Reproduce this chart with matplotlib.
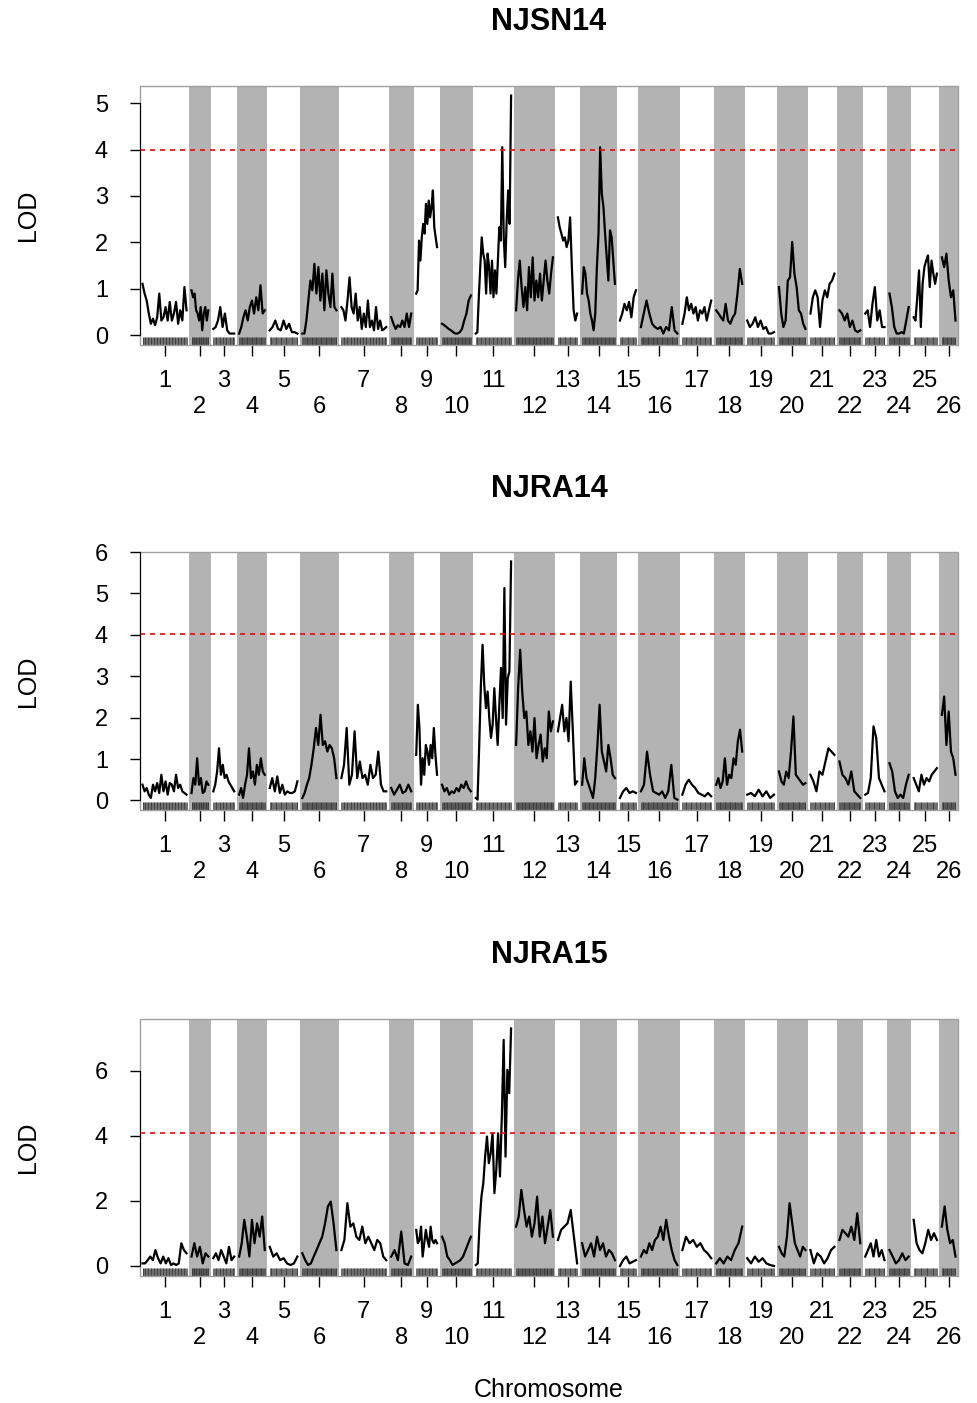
import numpy as np
import matplotlib
matplotlib.use("Agg")
import matplotlib.pyplot as plt
from matplotlib.patches import Rectangle

plt.rcParams['font.family'] = ['Liberation Sans', 'DejaVu Sans']

# chromosome map (cM) and gap between chromosomes
chrom_names = [str(i) for i in range(1, 27)]
chrom_len = [110, 42, 52, 64, 69, 85, 112, 50, 52, 72, 88, 92, 48,
             82, 40, 91, 72, 65, 67, 66, 60, 52, 48, 48, 58, 34]
gap = 12.5
# number of markers per chromosome (rug)
marker_count = [60, 25, 28, 32, 34, 42, 60, 26, 28, 38, 45, 48, 24,
                42, 20, 45, 36, 32, 32, 32, 30, 26, 24, 24, 28, 18]

titles = ["NJSN14", "NJRA14", "NJRA15"]
thresholds = [4.00, 4.02, 4.10]
y_ticks = [[0, 1, 2, 3, 4, 5], [0, 1, 2, 3, 4, 5, 6], [0, 2, 4, 6]]

lod_njsn14 = [
    [1.11, 0.90, 0.75, 0.47, 0.25, 0.36, 0.22, 0.39, 0.90, 0.32, 0.39, 0.61, 0.32, 0.72, 0.32, 0.47, 0.72, 0.25, 0.54, 0.32, 1.04, 0.54],
    [0.97, 0.82, 0.90, 0.54, 0.47, 0.32, 0.61, 0.11, 0.47, 0.61, 0.32, 0.54],
    [0.14, 0.18, 0.32, 0.61, 0.18, 0.47, 0.11, 0.04, 0.04, 0.04],
    [0.04, 0.18, 0.39, 0.54, 0.32, 0.61, 0.75, 0.47, 0.82, 0.54, 1.08, 0.47, 0.54],
    [0.11, 0.18, 0.32, 0.14, 0.11, 0.32, 0.14, 0.25, 0.07, 0.07, 0.04],
    [0.04, 0.04, 0.32, 0.75, 1.18, 0.97, 1.54, 0.90, 1.47, 0.75, 1.33, 0.54, 1.40, 0.90, 0.61, 1.33, 0.61, 0.54],
    [0.61, 0.54, 0.32, 0.75, 1.25, 0.61, 0.47, 0.90, 0.32, 0.61, 0.14, 0.47, 0.18, 0.75, 0.18, 0.32, 0.11, 0.61, 0.14, 0.32, 0.11, 0.14, 0.18],
    [0.39, 0.25, 0.14, 0.22, 0.18, 0.32, 0.18, 0.47, 0.18, 0.47],
    [0.90, 0.97, 2.04, 1.61, 2.11, 2.40, 2.19, 2.83, 2.40, 2.90, 2.54, 2.76, 3.12, 2.33, 2.11, 1.90],
    [0.25, 0.22, 0.18, 0.14, 0.11, 0.07, 0.04, 0.04, 0.07, 0.14, 0.32, 0.47, 0.75, 0.86],
    [0.04, 0.07, 0.82, 1.47, 2.11, 1.76, 1.61, 0.90, 1.76, 1.47, 0.90, 1.61, 0.82, 1.40, 0.90, 1.61, 2.33, 2.04, 4.05, 2.11, 1.47, 2.47, 3.12, 2.40, 5.16],
    [0.54, 1.18, 1.61, 1.04, 0.61, 1.04, 0.54, 1.47, 0.82, 1.68, 0.75, 1.18, 0.82, 1.33, 0.75, 1.18, 1.61, 1.18, 0.90, 1.33, 1.68],
    [2.54, 2.33, 2.19, 2.04, 2.11, 1.90, 2.04, 2.54, 1.47, 0.54, 0.32, 0.47],
    [0.90, 1.47, 1.33, 0.90, 0.75, 0.47, 0.32, 0.11, 0.47, 1.47, 2.19, 4.05, 3.05, 2.76, 2.19, 1.68, 1.18, 2.26, 2.11, 1.61, 1.11],
    [0.32, 0.47, 0.68, 0.54, 0.72, 0.39, 0.82, 0.97],
    [0.18, 0.47, 0.75, 0.47, 0.25, 0.18, 0.14, 0.18, 0.04, 0.18, 0.11, 0.61, 0.11, 0.04],
    [0.25, 0.47, 0.82, 0.54, 0.68, 0.47, 0.61, 0.32, 0.54, 0.47, 0.61, 0.32, 0.54, 0.75],
    [0.54, 0.47, 0.39, 0.32, 0.68, 0.32, 0.25, 0.39, 0.47, 0.90, 1.43, 1.11],
    [0.32, 0.18, 0.25, 0.39, 0.18, 0.32, 0.14, 0.18, 0.04, 0.04, 0.07],
    [1.04, 0.47, 0.18, 0.32, 1.18, 1.25, 2.01, 1.33, 1.04, 0.54, 0.47, 0.25, 0.14],
    [0.47, 0.82, 0.97, 0.82, 0.18, 0.75, 0.97, 0.82, 1.11, 1.18, 1.33],
    [0.54, 0.47, 0.32, 0.47, 0.18, 0.32, 0.11, 0.07, 0.11],
    [0.47, 0.54, 0.18, 0.68, 1.04, 0.32, 0.54, 0.18, 0.18],
    [0.90, 0.61, 0.18, 0.04, 0.04, 0.07, 0.04, 0.32, 0.61],
    [0.39, 0.32, 0.82, 1.40, 0.18, 1.11, 1.47, 1.61, 1.72, 1.04, 1.61, 1.33, 1.11, 1.33],
    [1.68, 1.47, 1.76, 1.18, 0.82, 0.97, 0.32],
]

lod_njra14 = [
    [0.38, 0.22, 0.30, 0.14, 0.06, 0.38, 0.22, 0.42, 0.18, 0.62, 0.22, 0.46, 0.14, 0.42, 0.38, 0.22, 0.62, 0.30, 0.38, 0.22, 0.18, 0.14],
    [0.18, 0.54, 0.38, 1.02, 0.38, 0.54, 0.18, 0.22, 0.46, 0.38],
    [0.22, 0.38, 0.70, 1.26, 0.62, 0.86, 0.54, 0.62, 0.46, 0.38, 0.30, 0.22],
    [0.14, 0.30, 0.06, 0.38, 0.62, 1.26, 0.54, 0.70, 0.38, 0.86, 0.62, 1.02, 0.70, 0.62],
    [0.30, 0.54, 0.22, 0.58, 0.18, 0.38, 0.14, 0.22, 0.18, 0.18, 0.22, 0.46],
    [0.06, 0.18, 0.38, 0.54, 0.86, 1.26, 1.75, 1.34, 2.07, 1.34, 1.43, 1.18, 1.34, 1.26, 1.02, 0.54],
    [0.54, 0.86, 1.75, 0.38, 0.62, 1.67, 0.54, 0.94, 0.54, 0.62, 0.38, 0.86, 0.54, 0.62, 1.18, 0.38, 0.22, 0.22],
    [0.30, 0.14, 0.26, 0.38, 0.18, 0.22, 0.38, 0.22],
    [1.10, 2.31, 1.75, 0.38, 1.02, 0.62, 1.34, 1.18, 0.86, 1.34, 1.02, 1.75, 1.10, 0.62],
    [0.38, 0.22, 0.30, 0.14, 0.22, 0.18, 0.30, 0.22, 0.38, 0.30, 0.46, 0.30, 0.22],
    [0.06, 0.02, 1.34, 2.79, 3.76, 2.79, 2.23, 2.63, 1.99, 1.51, 1.83, 2.71, 1.99, 1.34, 2.31, 3.20, 1.99, 5.13, 1.83, 2.95, 3.12, 5.77],
    [1.34, 2.71, 3.64, 2.63, 1.99, 2.15, 1.34, 1.67, 1.18, 1.99, 1.02, 1.34, 1.59, 0.94, 1.26, 1.02, 2.15, 1.67, 1.91],
    [1.67, 1.99, 2.31, 1.67, 1.99, 1.43, 2.87, 1.67, 0.38, 0.46],
    [0.38, 1.02, 0.54, 0.38, 0.22, 0.06, 0.54, 1.34, 2.31, 1.18, 0.94, 0.70, 1.34, 1.02, 0.62, 0.54],
    [0.06, 0.22, 0.30, 0.18, 0.22, 0.18],
    [0.22, 0.38, 1.18, 0.62, 0.22, 0.18, 0.14, 0.22, 0.06, 0.22, 0.86, 0.06, 0.02],
    [0.14, 0.38, 0.50, 0.38, 0.30, 0.18, 0.14, 0.10, 0.18, 0.10],
    [0.38, 0.54, 0.30, 0.46, 1.02, 0.38, 0.62, 0.54, 1.02, 0.86, 1.43, 1.71, 1.18],
    [0.14, 0.18, 0.10, 0.26, 0.10, 0.22, 0.06, 0.14],
    [0.70, 0.46, 0.38, 0.70, 0.54, 1.18, 2.03, 0.62, 0.54, 0.46, 0.38, 0.42],
    [0.62, 0.46, 0.22, 0.70, 0.62, 0.94, 1.26, 1.18, 1.10],
    [0.94, 0.62, 0.54, 0.38, 0.70, 0.22, 0.14, 0.06],
    [0.14, 0.18, 0.54, 1.79, 1.51, 0.54, 0.38, 0.22],
    [0.90, 0.70, 0.22, 0.06, 0.14, 0.06, 0.38, 0.62],
    [0.54, 0.38, 0.22, 0.62, 0.38, 0.54, 0.46, 0.62, 0.70, 0.78],
    [2.07, 2.51, 1.34, 2.15, 1.18, 1.02, 0.62],
]

lod_njra15 = [
    [0.08, 0.08, 0.18, 0.29, 0.18, 0.49, 0.24, 0.08, 0.29, 0.08, 0.24, 0.03, 0.08, 0.03, 0.08, 0.70, 0.49, 0.39],
    [0.29, 0.70, 0.29, 0.59, 0.08, 0.39, 0.29],
    [0.24, 0.39, 0.18, 0.49, 0.29, 0.08, 0.59, 0.18, 0.29],
    [0.29, 0.70, 1.42, 0.90, 0.29, 1.42, 0.70, 1.31, 0.90, 1.52, 0.49],
    [0.59, 0.29, 0.39, 0.18, 0.24, 0.08, 0.03, 0.08, 0.29],
    [0.39, 0.18, 0.03, 0.08, 0.29, 0.49, 0.70, 0.90, 1.31, 1.83, 1.98, 1.31, 0.49],
    [0.49, 0.80, 1.93, 1.21, 1.31, 0.90, 0.80, 1.21, 0.70, 0.90, 0.70, 0.49, 0.80, 0.70, 0.29, 0.18],
    [0.29, 0.49, 0.18, 1.06, 0.08, 0.03, 0.29],
    [1.11, 0.70, 0.80, 1.21, 0.29, 0.70, 1.11, 0.80, 0.59, 1.21, 0.80, 0.70, 0.80, 0.70],
    [0.90, 0.70, 0.29, 0.18, 0.03, 0.08, 0.13, 0.18, 0.29, 0.49, 0.70, 0.90],
    [0.03, 0.08, 1.31, 2.13, 2.54, 3.36, 3.98, 3.16, 3.47, 4.08, 2.24, 2.95, 4.08, 2.75, 4.59, 6.95, 3.36, 6.03, 5.31, 7.30],
    [1.21, 1.52, 2.34, 1.72, 1.21, 1.52, 0.90, 1.31, 2.13, 0.90, 1.52, 0.70, 1.21, 1.72, 0.90],
    [0.80, 1.11, 1.21, 1.31, 1.72, 0.90, 0.08],
    [0.70, 0.29, 0.49, 0.70, 0.29, 0.90, 0.49, 0.70, 0.29, 0.49, 0.39, 0.18],
    [0.00, 0.18, 0.29, 0.08, 0.13, 0.18],
    [0.29, 0.49, 0.39, 0.70, 0.49, 0.80, 0.90, 1.21, 0.80, 1.42, 0.90, 0.49, 0.18, 0.03],
    [0.49, 0.90, 0.70, 0.80, 0.59, 0.70, 0.49, 0.39, 0.24],
    [0.08, 0.24, 0.08, 0.29, 0.18, 0.49, 0.70, 1.21],
    [0.24, 0.08, 0.29, 0.13, 0.24, 0.08, 0.03, 0.00],
    [0.59, 0.39, 0.29, 0.90, 1.93, 1.31, 0.70, 0.49, 0.29, 0.59, 0.49],
    [0.49, 0.08, 0.39, 0.29, 0.08, 0.24, 0.49, 0.59],
    [0.80, 1.11, 1.01, 0.90, 1.21, 0.80, 1.62, 0.70],
    [0.29, 0.49, 0.70, 0.29, 0.80, 0.29, 0.49, 0.18],
    [0.49, 0.29, 0.08, 0.18, 0.39, 0.18, 0.29],
    [1.42, 0.70, 0.49, 0.39, 0.70, 1.11, 0.80, 1.01, 0.80],
    [1.21, 1.83, 1.11, 0.70, 0.80, 0.29],
]

all_lod = [lod_njsn14, lod_njra14, lod_njra15]

# chromosome start positions on the genome-wide axis
starts = []
pos = gap / 2
for L in chrom_len:
    starts.append(pos)
    pos += L + gap
total = pos - gap / 2
mids = [s + L / 2 for s, L in zip(starts, chrom_len)]

fig = plt.figure(figsize=(9.78, 14.03), dpi=100)
W, H = 978, 1403
panel_px = [(86, 345), (552, 810), (1019, 1275.5)]
title_y = [22, 489, 955]

for k in range(3):
    top, bot = panel_px[k]
    ax = fig.add_axes([140 / W, 1 - bot / H, 818 / W, (bot - top) / H])
    lods = all_lod[k]
    ymax = max(max(v) for v in lods)
    ylo, yhi = -0.04 * ymax, 1.04 * ymax
    ax.set_xlim(0, total)
    ax.set_ylim(ylo, yhi)

    # shaded even chromosomes
    for i, (s, L) in enumerate(zip(starts, chrom_len)):
        if i % 2 == 1:
            ax.axvspan(s - gap / 2, s + L + gap / 2, color='#b3b3b3', lw=0, zorder=0)

    # LOD curves
    for i, (s, L) in enumerate(zip(starts, chrom_len)):
        v = lods[i]
        x = s + np.linspace(0, L, len(v))
        ax.plot(x, v, color='black', lw=1.6, zorder=3)

    # marker rug
    for i, (s, L) in enumerate(zip(starts, chrom_len)):
        mx = s + np.linspace(0, L, marker_count[i])
        ax.vlines(mx, ylo, ylo + 0.03 * (yhi - ylo), color='#333333', lw=0.5, zorder=2)

    ax.axhline(thresholds[k], color='red', ls=(0, (3, 3)), lw=1.2, zorder=4)

    for sp in ax.spines.values():
        sp.set_visible(False)
    ax.add_patch(Rectangle((0, 0), 1, 1, transform=ax.transAxes, fill=False,
                           edgecolor='#a0a0a0', lw=1.0, zorder=5, clip_on=False))
    ax.spines['left'].set_visible(True)
    ax.spines['left'].set_color('black')
    ax.spines['left'].set_bounds(y_ticks[k][0], y_ticks[k][-1])
    ax.spines['left'].set_zorder(6)

    ax.set_yticks(y_ticks[k])
    ax.set_yticklabels([str(t) for t in y_ticks[k]])
    ax.tick_params(axis='y', direction='out', length=7, width=1, pad=16, labelsize=17)

    # odd chromosomes on the first row, even ones on the second row
    ax.set_xticks(mids[0::2])
    ax.set_xticklabels(chrom_names[0::2])
    ax.set_xticks(mids[1::2], minor=True)
    ax.set_xticklabels(chrom_names[1::2], minor=True)
    ax.tick_params(axis='x', which='major', direction='out', length=8, width=1,
                   pad=10, labelsize=17)
    ax.tick_params(axis='x', which='minor', direction='out', length=8, width=1,
                   pad=29, labelsize=17)

    fig.text(549 / W, 1 - title_y[k] / H, titles[k], ha='center', va='center',
             fontsize=22, fontweight='bold')
    fig.text(28 / W, 1 - (top + bot) / 2 / H, 'LOD', ha='center', va='center',
             rotation=90, fontsize=18)

fig.text(549 / W, 1 - 1390 / H, 'Chromosome', ha='center', va='center', fontsize=18)

fig.savefig('out.png', dpi=100)
